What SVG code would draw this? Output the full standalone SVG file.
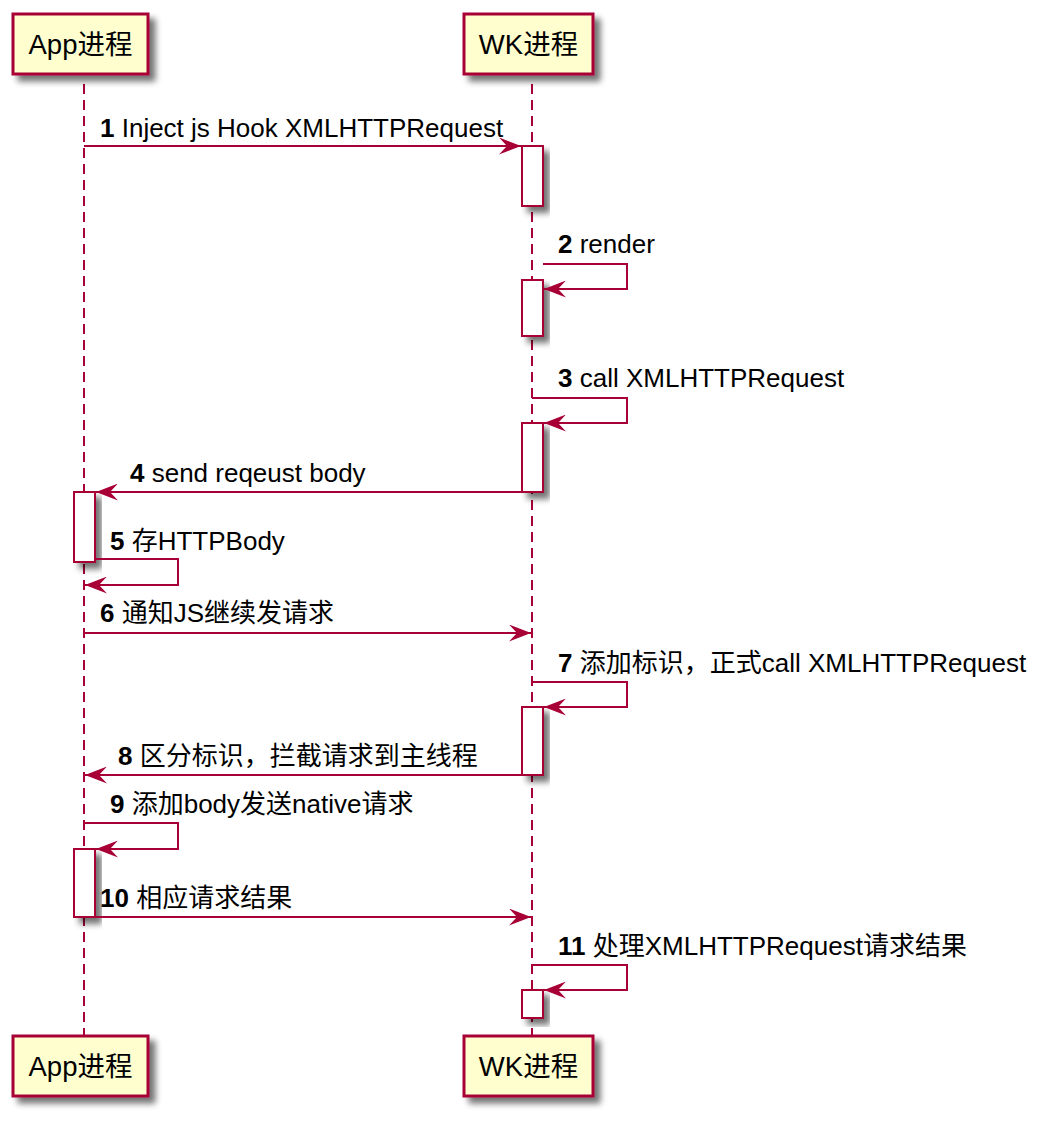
<svg xmlns="http://www.w3.org/2000/svg" width="1040" height="1126" viewBox="0 0 1040 1126">
<defs>
<filter id="sh" x="-30%" y="-30%" width="160%" height="160%">
<feGaussianBlur in="SourceAlpha" stdDeviation="3"/>
<feOffset dx="6" dy="6" result="o"/>
<feComponentTransfer><feFuncA type="linear" slope="0.55"/></feComponentTransfer>
<feMerge><feMergeNode/><feMergeNode in="SourceGraphic"/></feMerge>
</filter>
<marker id="ah" markerUnits="userSpaceOnUse" viewBox="0 0 22 17" refX="22" refY="8.5" markerWidth="22" markerHeight="17" orient="auto">
<path d="M0,0 L22,8.5 L0,17 L8,8.5 Z" fill="#A80036"/>
</marker>
<style>
.part{fill:#FEFECE;stroke:#A80036;stroke-width:3}
.act{fill:#FFFFFF;stroke:#A80036;stroke-width:2}
.life{stroke:#A80036;stroke-width:2;stroke-dasharray:10,6;fill:none}
.msg{stroke:#A80036;stroke-width:2;fill:none;marker-end:url(#ah)}
.pt{font-family:"Liberation Sans","Noto Sans CJK SC",sans-serif;font-size:27.5px;fill:#000;text-anchor:middle}
.mt{font-family:"Liberation Sans","Noto Sans CJK SC",sans-serif;font-size:26px;fill:#000}
.n{font-weight:bold}
</style>
</defs>
<rect width="1040" height="1126" fill="#FFFFFF"/>
<g id="lifelines">
<line class="life" x1="84" y1="84" x2="84" y2="1036"/>
<line class="life" x1="532" y1="84" x2="532" y2="1036"/>
</g>
<g id="app-top"><rect class="part" x="13" y="14" width="135" height="60" filter="url(#sh)"/><text class="pt" x="80.5" y="54">App进程</text></g>
<g id="wk-top"><rect class="part" x="464" y="14" width="129" height="60" filter="url(#sh)"/><text class="pt" x="528.5" y="54">WK进程</text></g>
<g id="app-bottom"><rect class="part" x="13" y="1036" width="135" height="60" filter="url(#sh)"/><text class="pt" x="80.5" y="1076">App进程</text></g>
<g id="wk-bottom"><rect class="part" x="464" y="1036" width="129" height="60" filter="url(#sh)"/><text class="pt" x="528.5" y="1076">WK进程</text></g>
<g id="activations">
<rect class="act" x="522" y="146" width="21" height="60" filter="url(#sh)"/>
<rect class="act" x="522" y="280" width="21" height="56" filter="url(#sh)"/>
<rect class="act" x="522" y="423" width="21" height="69" filter="url(#sh)"/>
<rect class="act" x="74" y="492" width="21" height="70" filter="url(#sh)"/>
<rect class="act" x="522" y="707" width="21" height="68" filter="url(#sh)"/>
<rect class="act" x="74" y="849" width="21" height="68" filter="url(#sh)"/>
<rect class="act" x="522" y="990" width="21" height="28" filter="url(#sh)"/>
</g>
<g id="connectors">
<path class="msg" d="M84,146 H521"/>
<path class="msg" d="M543,264 H627 V289 H544"/>
<path class="msg" d="M532,398 H627 V423 H544"/>
<path class="msg" d="M522,492 H96"/>
<path class="msg" d="M95,559 H178 V585 H85"/>
<path class="msg" d="M84,633 H531"/>
<path class="msg" d="M532,682 H627 V707 H544"/>
<path class="msg" d="M522,775 H85"/>
<path class="msg" d="M84,823 H178 V849 H96"/>
<path class="msg" d="M95,917 H531"/>
<path class="msg" d="M532,965 H627 V990 H544"/>
</g>
<g id="labels">
<text class="mt" x="100" y="137"><tspan class="n">1</tspan> Inject js Hook XMLHTTPRequest</text>
<text class="mt" x="558" y="253"><tspan class="n">2</tspan> render</text>
<text class="mt" x="558" y="387"><tspan class="n">3</tspan> call XMLHTTPRequest</text>
<text class="mt" x="130" y="482"><tspan class="n">4</tspan> send reqeust body</text>
<text class="mt" x="110" y="550"><tspan class="n">5</tspan> 存HTTPBody</text>
<text class="mt" x="100" y="622"><tspan class="n">6</tspan> 通知JS继续发请求</text>
<text class="mt" x="558" y="672"><tspan class="n">7</tspan> 添加标识，正式call XMLHTTPRequest</text>
<text class="mt" x="118" y="765"><tspan class="n">8</tspan> 区分标识，拦截请求到主线程</text>
<text class="mt" x="110" y="813"><tspan class="n">9</tspan> 添加body发送native请求</text>
<text class="mt" x="100" y="907"><tspan class="n">10</tspan> 相应请求结果</text>
<text class="mt" x="558" y="955"><tspan class="n">11</tspan> 处理XMLHTTPRequest请求结果</text>
</g>
</svg>
